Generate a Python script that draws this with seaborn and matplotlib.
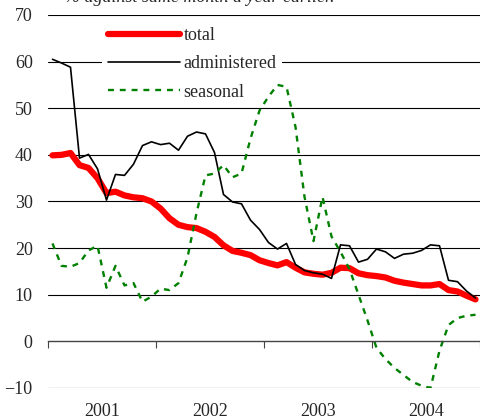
import numpy as np
import pandas as pd
import matplotlib.pyplot as plt
import seaborn as sns

# Monthly data, Jan 2001 - Dec 2004 (% against same month a year earlier)
years = ["2001", "2002", "2003", "2004"]
total = [39.9, 40.0, 40.4, 37.8, 37.2, 35.0, 31.8, 32.1, 31.3, 30.9, 30.7, 30.0,
         28.5, 26.4, 25.0, 24.5, 24.3, 23.5, 22.4, 20.6, 19.4, 19.0, 18.5, 17.4,
         16.8, 16.3, 17.0, 15.8, 14.8, 14.5, 14.3, 14.7, 15.8, 15.7, 14.6, 14.2,
         14.0, 13.7, 13.0, 12.6, 12.3, 12.0, 12.0, 12.3, 11.0, 10.7, 9.8, 9.0]
administered = [60.5, 59.7, 58.8, 39.3, 40.1, 37.0, 30.3, 35.8, 35.6, 38.0, 42.0, 42.8,
                42.2, 42.5, 41.0, 44.0, 44.9, 44.5, 40.5, 31.5, 29.9, 29.5, 26.0, 24.0,
                21.2, 19.8, 21.0, 16.5, 15.2, 14.7, 14.4, 13.5, 20.7, 20.5, 17.0, 17.6,
                19.8, 19.2, 17.8, 18.7, 18.9, 19.5, 20.7, 20.5, 13.1, 12.8, 10.8, 9.3]
seasonal = [21.0, 16.2, 16.0, 16.8, 19.5, 20.5, 11.5, 16.2, 12.0, 12.5, 8.5, 9.6,
            11.3, 11.0, 12.5, 18.0, 27.5, 35.6, 36.0, 37.8, 35.2, 36.0, 43.5, 49.5,
            52.5, 55.0, 54.6, 46.0, 31.0, 21.5, 31.0, 22.5, 19.2, 15.5, 10.0, 4.5,
            -1.4, -3.8, -5.7, -7.2, -8.7, -9.5, -10.0, -2.0, 3.5, 5.0, 5.5, 5.7]
months = np.arange(len(total))

sns.set_style("white")
plt.rcParams['font.family'] = ['Liberation Serif', 'DejaVu Serif']

fig = plt.figure(figsize=(4.8, 4.2), dpi=100)
ax = fig.add_axes([0.1, 0.0762, 0.9, 0.8881])

sns.lineplot(x=months, y=total, color="#ff0000", lw=4.5, label="total", ax=ax,
             solid_capstyle="round")
sns.lineplot(x=months, y=administered, color="black", lw=1.2, label="administered", ax=ax)
sns.lineplot(x=months, y=seasonal, color="#008000", lw=1.7, ls=(0, (2.5, 2.5)),
             label="seasonal", ax=ax)

ax.set_xlim(-0.5, 47)
ax.set_ylim(-10, 70)
ax.set_yticks(range(-10, 71, 10))
for v in range(-10, 71, 10):
    if v != 0:
        ax.axhline(v, color="black", lw=0.8, zorder=0)

for s in ["left", "right", "top"]:
    ax.spines[s].set_visible(False)
ax.spines["bottom"].set_position(("data", 0))
ax.spines["bottom"].set_color("#444444")
ax.spines["bottom"].set_linewidth(1.0)

ax.set_xticks([-0.5, 11.5, 23.5, 35.5, 47.5])
ax.set_xticklabels([])
ax.tick_params(axis="x", direction="out", length=5, width=0.8, color="#444444", bottom=True)
ax.tick_params(axis="y", length=0, pad=11, labelsize=13)
for i, y in enumerate(years):
    ax.text(5.5 + 12 * i, -0.062, y, transform=ax.get_xaxis_transform(),
            ha="center", va="center", fontsize=13)

leg = ax.legend(loc="upper left", bbox_to_anchor=(0.126, 0.982), frameon=True,
                fontsize=13, handlelength=4.0, handletextpad=0.2, labelspacing=0.62,
                borderpad=0.3, borderaxespad=0, fancybox=False)
leg.get_frame().set_facecolor("white")
leg.get_frame().set_edgecolor("none")
leg.get_frame().set_alpha(1)
leg.set_zorder(1.5)  # legend box sits under the data lines, over the grid

fig.text(65 / 480, 1 - 2 / 420, "% against same month a year earlier.",
         fontsize=13, style="italic", ha="left", va="baseline")

fig.savefig("out.png", dpi=100)
